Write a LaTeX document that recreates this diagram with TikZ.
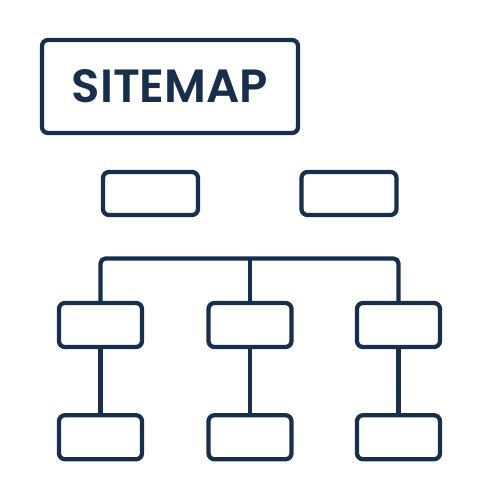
\documentclass[tikz,border=0pt]{standalone}
\usepackage{fontspec}
\newfontfamily\titlefont{Poppins SemiBold}
\usetikzlibrary{positioning}
\definecolor{navy}{RGB}{24,47,76}
\tikzset{
  basic/.style   = {draw=navy, line width=0.085cm, rounded corners=0.12cm, inner sep=0pt},
  title/.style   = {basic, minimum width=5.12cm, minimum height=1.86cm,
                    font=\titlefont\fontsize{26.5}{26.5}\selectfont, text=navy},
  page/.style    = {basic, minimum width=1.9cm, minimum height=0.86cm},
  subpage/.style = {basic, minimum width=1.66cm, minimum height=0.88cm},
  link/.style    = {draw=navy, line width=0.085cm, rounded corners=0.1cm}
}

\begin{document}
\begin{tikzpicture}
\useasboundingbox (0,0) rectangle (10,-10);

% title and the two top pages
\node[title] (map) at (3.4,-1.73) {SITEMAP};
\node[page] (p1) at (3.01,-3.87) {};
\node[page] (p2) at (6.98,-3.87) {};

% second and third level
\foreach \name/\x in {1/2.01, 2/5, 3/7.97} {
  \node[subpage] (s\name) at (\x,-6.5) {};
  \node[subpage, below=1.28cm of s\name] (t\name) {};
}

% bus over the second level
\coordinate (bus) at (5,-5.17);
\draw[link] (s1.north) |- (bus) -| (s3.north);
\draw[link] (bus) -- (s2.north);

% lines down to the third level
\foreach \value in {1,2,3}
  \draw[link] (s\value) -- (t\value);

\end{tikzpicture}
\end{document}
